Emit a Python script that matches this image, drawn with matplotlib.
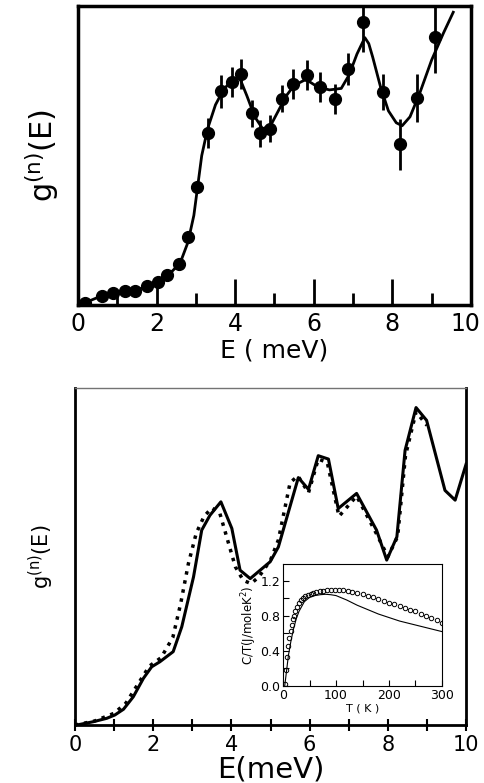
''' Phonon density of states g(n)(E): measured vs. model, with C/T inset '''

from matplotlib import pyplot as plt
from matplotlib import transforms
from matplotlib.ticker import MultipleLocator

# --- top panel: measured points with error bars ---
e_pts = [0.18, 0.6, 0.9, 1.21, 1.45, 1.75, 2.04, 2.27, 2.57, 2.8, 3.03, 3.31,
         3.63, 3.91, 4.16, 4.42, 4.63, 4.9, 5.18, 5.47, 5.82, 6.16, 6.54, 6.87,
         7.26, 7.77, 8.19, 8.62, 9.08]
g_pts = [0.7, 3.0, 4.0, 4.7, 4.7, 6.4, 7.7, 10.0, 13.7, 22.7, 39.5, 57.5,
         71.6, 74.6, 77.3, 64.2, 57.5, 59.0, 69.0, 74.0, 77.0, 73.0, 69.0, 79.0,
         94.8, 71.3, 53.8, 69.4, 89.8]
g_err = [0, 0, 0, 0, 0, 0, 0, 0, 0, 0, 0, 5.0,
         5.5, 5.0, 5.0, 4.5, 4.5, 4.5, 4.5, 5.0, 5.0, 5.0, 5.0, 5.5,
         10.0, 6.0, 8.5, 8.0, 12.0]

# smooth fit through the points
e_fit = [0.1, 0.5, 1.0, 1.5, 2.0, 2.3, 2.6, 2.8, 2.95, 3.05, 3.15, 3.3, 3.5,
         3.7, 3.9, 4.1, 4.3, 4.5, 4.7, 4.9, 5.1, 5.3, 5.5, 5.8, 6.1, 6.4, 6.7,
         6.9, 7.1, 7.3, 7.4, 7.5, 7.7, 7.9, 8.1, 8.25, 8.45, 8.7, 9.0, 9.3, 9.55]
g_fit = [0.3, 2.5, 4.0, 5.0, 7.5, 10.0, 14.0, 21.0, 30.0, 40.0, 50.0, 59.0, 67.0,
         72.0, 75.0, 76.5, 70.0, 63.0, 59.0, 60.0, 65.0, 70.0, 73.5, 75.5, 73.0, 72.0, 72.5,
         77.0, 84.0, 89.5, 87.5, 83.0, 73.0, 65.0, 61.0, 60.0, 63.0, 71.0, 82.0, 91.0, 98.0]

# --- bottom panel: calculated curves ---
e_solid = [0.04, 0.47, 0.81, 1.02, 1.24, 1.49, 1.75, 1.96, 2.17, 2.51, 2.73, 3.03,
           3.24, 3.45, 3.73, 4.01, 4.22, 4.48, 4.99, 5.2, 5.42, 5.71, 5.97, 6.22,
           6.48, 6.73, 7.2, 7.71, 7.97, 8.23, 8.44, 8.72, 8.99, 9.46, 9.72, 10.0]
g_solid = [0.0, 1.0, 2.0, 3.0, 4.7, 8.4, 13.9, 17.3, 18.8, 21.8, 29.2, 44.0,
           57.9, 62.3, 66.3, 58.4, 46.0, 43.5, 48.5, 52.9, 61.8, 73.5, 70.0, 80.0,
           79.0, 64.3, 68.8, 57.9, 49.0, 55.9, 81.6, 94.3, 90.5, 69.7, 66.8, 77.5]

e_dot = [0.0, 0.5, 1.0, 1.3, 1.6, 1.9, 2.2, 2.5, 2.7, 2.9, 3.1, 3.3, 3.5, 3.7,
         3.9, 4.1, 4.3, 4.5, 4.7, 5.0, 5.2, 5.5, 5.7, 5.97, 6.22, 6.45, 6.75,
         7.2, 7.7, 8.0, 8.25, 8.45, 8.72, 9.0]
g_dot = [0.0, 1.2, 3.5, 6.5, 12.0, 17.5, 20.0, 26.0, 36.0, 48.0, 57.0, 62.0, 64.5, 63.0,
         55.0, 47.0, 43.0, 42.0, 44.0, 49.0, 55.0, 72.0, 74.0, 69.0, 79.0, 78.0, 62.0,
         68.0, 57.0, 50.0, 56.0, 80.0, 93.0, 89.0]

# --- inset: C/T vs T ---
t_circ = [4, 6, 8, 10, 12, 14, 16, 18, 20, 23, 26, 30, 34, 38, 42, 47, 52, 57,
          63, 69, 75, 82, 90, 98, 106, 114, 122, 131, 140, 150, 160, 170, 180,
          190, 200, 210, 220, 230, 240, 250, 260, 270, 280, 290, 300]
c_circ = [0.02, 0.18, 0.33, 0.45, 0.55, 0.63, 0.70, 0.76, 0.80, 0.86, 0.90, 0.94,
          0.98, 1.00, 1.02, 1.04, 1.05, 1.06, 1.07, 1.08, 1.08, 1.09, 1.09, 1.09,
          1.09, 1.09, 1.08, 1.07, 1.06, 1.05, 1.03, 1.01, 0.99, 0.97, 0.95, 0.93,
          0.91, 0.89, 0.87, 0.85, 0.82, 0.80, 0.78, 0.75, 0.72]
t_line = [3, 6, 10, 15, 20, 25, 30, 40, 50, 60, 70, 80, 90, 100, 120, 140, 160,
          180, 200, 220, 240, 260, 280, 300]
c_line = [0.0, 0.15, 0.35, 0.52, 0.66, 0.77, 0.85, 0.96, 1.01, 1.03, 1.04, 1.045,
          1.04, 1.03, 0.98, 0.92, 0.87, 0.82, 0.78, 0.74, 0.71, 0.68, 0.65, 0.62]

xticks = [0, 2, 4, 6, 8, 10]
ylab = 'g$^{\\mathrm{(n)}}$(E)'

fig = plt.figure(figsize=(4.84, 7.83), dpi=100)

# top panel
ax1 = fig.add_axes([0.161, 0.6105, 0.812, 0.3815])
ax1.plot(e_fit, g_fit, 'k-', lw=2)
ax1.errorbar(e_pts, g_pts, yerr=g_err, fmt='o', color='k', ms=8.5,
             elinewidth=2, capsize=0)
ax1.set_xlim(0, 10)
ax1.set_ylim(0, 100)
ax1.set_xticks(xticks)
ax1.xaxis.set_minor_locator(MultipleLocator(1))
ax1.set_yticks([])
ax1.tick_params(axis='x', which='major', direction='in', length=19, width=2,
                labelsize=17, pad=5)
ax1.tick_params(axis='x', which='minor', direction='in', length=9, width=2)
for s in ax1.spines.values():
	s.set_linewidth(2.5)
ax1.set_xlabel('E ( meV)', fontsize=18, labelpad=2)
ax1.set_ylabel(ylab, fontsize=22, labelpad=12)
# pull the "10" label a bit left so it stays inside the figure
last = ax1.get_xticklabels()[-1]
last.set_transform(last.get_transform() +
                   transforms.ScaledTranslation(-6/100, 0, fig.dpi_scale_trans))

# bottom panel
ax2 = fig.add_axes([0.155, 0.074, 0.808, 0.430])
ax2.plot(e_solid, g_solid, 'k-', lw=2.2)
ax2.plot(e_dot, g_dot, 'k:', lw=2.5)
ax2.set_xlim(0, 10)
ax2.set_ylim(0, 100)
ax2.set_xticks(xticks)
ax2.xaxis.set_minor_locator(MultipleLocator(1))
ax2.set_yticks([])
ax2.tick_params(axis='x', which='both', direction='inout', length=9, width=1.5,
                labelsize=15, pad=3)
for s in ax2.spines.values():
	s.set_linewidth(2)
ax2.spines['top'].set_linewidth(1)
ax2.spines['top'].set_color('0.45')
ax2.set_xlabel('E(meV)', fontsize=21, labelpad=0)
ax2.set_ylabel(ylab, fontsize=15, labelpad=14)

# inset
ax3 = fig.add_axes([0.585, 0.1239, 0.328, 0.1558])
ax3.plot(t_line, c_line, 'k-', lw=0.8)
ax3.plot(t_circ, c_circ, 'o', mfc='none', mec='k', ms=3.2, mew=0.7)
ax3.set_xlim(0, 300)
ax3.set_ylim(0, 1.39)
ax3.set_xticks([0, 100, 200, 300])
ax3.set_yticks([0.0, 0.4, 0.8, 1.2])
ax3.set_yticklabels(['0.0', '0.4', '0.8', '1.2'])
ax3.xaxis.set_minor_locator(MultipleLocator(50))
ax3.yaxis.set_minor_locator(MultipleLocator(0.2))
ax3.tick_params(which='both', direction='in', length=4, width=0.8,
                labelsize=9, pad=2)
for s in ax3.spines.values():
	s.set_linewidth(0.8)
ax3.set_xlabel('T ( K )', fontsize=8, labelpad=1)
ax3.set_ylabel('C/T(J/moleK$^2$)', fontsize=8.5, labelpad=1)

fig.savefig('out.png', dpi=100)
